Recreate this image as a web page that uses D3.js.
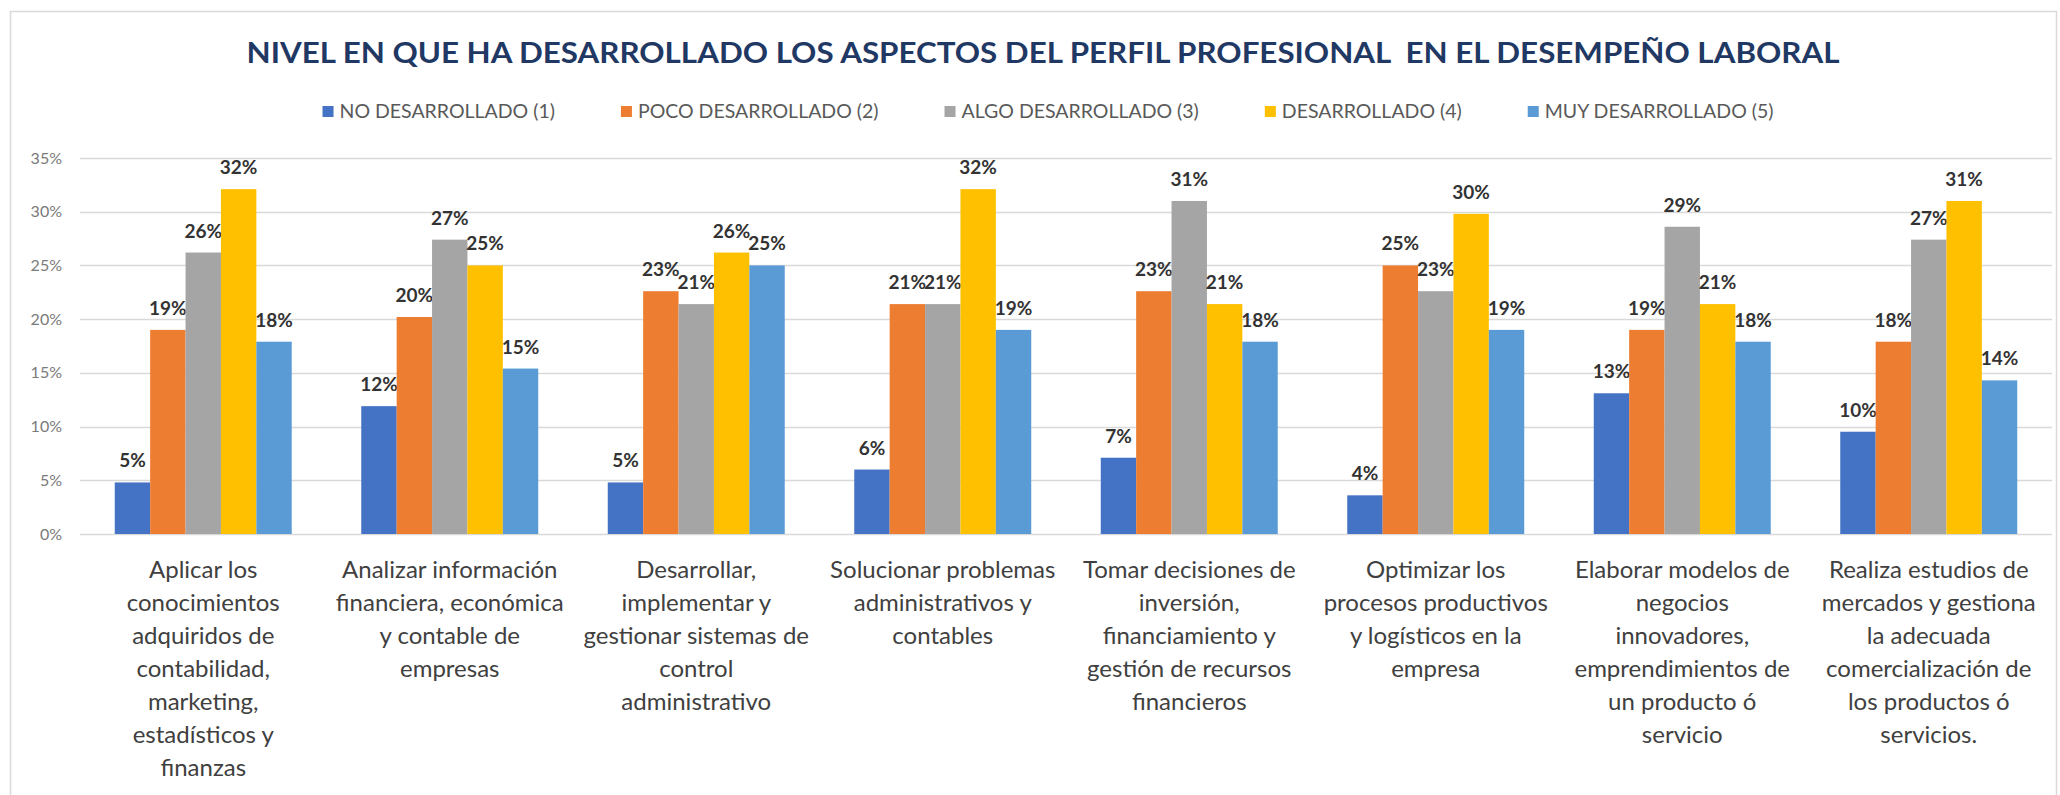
<!DOCTYPE html>
<html>
<head>
<meta charset="utf-8">
<script src="https://cdn.jsdelivr.net/npm/d3@7"></script>
<style>
    body { margin: 0; background: #ffffff; }
    text { font-family: Lato, "Open Sans", sans-serif; }
</style>
</head>
<body>
<svg id="chart" width="2060" height="795"></svg>
<script>
// Chart title
var title = "NIVEL EN QUE HA DESARROLLADO LOS ASPECTOS DEL PERFIL PROFESIONAL  EN EL DESEMPEÑO LABORAL";

// Series names (legend order)
var seriesNames = ["NO DESARROLLADO (1)", "POCO DESARROLLADO (2)", "ALGO DESARROLLADO (3)", "DESARROLLADO (4)", "MUY DESARROLLADO (5)"];

// Category labels, already broken into lines as in the original
var categories = [
    ["Aplicar los", "conocimientos", "adquiridos de", "contabilidad,", "marketing,", "estadísticos y", "finanzas"],
    ["Analizar información", "financiera, económica", "y contable de", "empresas"],
    ["Desarrollar,", "implementar y", "gestionar sistemas de", "control", "administrativo"],
    ["Solucionar problemas", "administrativos y", "contables"],
    ["Tomar decisiones de", "inversión,", "financiamiento y", "gestión de recursos", "financieros"],
    ["Optimizar los", "procesos productivos", "y logísticos en la", "empresa"],
    ["Elaborar modelos de", "negocios", "innovadores,", "emprendimientos de", "un producto ó", "servicio"],
    ["Realiza estudios de", "mercados y gestiona", "la adecuada", "comercialización de", "los productos ó", "servicios."]
];

// Values per series, one per category
var noDesarrollado    = [0.048, 0.119, 0.048, 0.060, 0.071, 0.036, 0.131, 0.0952];
var pocoDesarrollado  = [0.190, 0.202, 0.226, 0.214, 0.226, 0.250, 0.190, 0.179];
var algoDesarrollado  = [0.262, 0.274, 0.214, 0.214, 0.310, 0.226, 0.286, 0.274];
var desarrollado      = [0.321, 0.250, 0.262, 0.321, 0.214, 0.298, 0.214, 0.310];
var muyDesarrollado   = [0.179, 0.154, 0.250, 0.190, 0.179, 0.190, 0.179, 0.143];

// Y axis ticks
var yTicks = [0, 0.05, 0.10, 0.15, 0.20, 0.25, 0.30, 0.35];

var seriesValues = [noDesarrollado, pocoDesarrollado, algoDesarrollado, desarrollado, muyDesarrollado];
var colors = ["#4472C4", "#ED7D31", "#A5A5A5", "#FFC000", "#5B9BD5"];

var svg = d3.select("#chart");

// Plot area
var plot = { left: 80, right: 2052, top: 158, bottom: 534 };

// Chart area border
svg.append("rect")
    .attr("x", 10.5)
    .attr("y", 11.5)
    .attr("width", 2046)
    .attr("height", 820)
    .style("fill", "none")
    .style("stroke", "#d9d9d9")
    .style("stroke-width", 1.5);

// Scales
var x0 = d3.scaleBand()
    .domain(d3.range(categories.length))
    .range([plot.left, plot.right])
    .paddingInner(0.282)
    .paddingOuter(0.141);

var x1 = d3.scaleBand()
    .domain(d3.range(seriesNames.length))
    .range([0, x0.bandwidth()]);

var y = d3.scaleLinear()
    .domain([0, 0.35])
    .range([plot.bottom, plot.top]);

var pct = d3.format(".0%");

// Gridlines
svg.append("g")
    .selectAll("line")
    .data(yTicks)
    .enter()
    .append("line")
        .attr("x1", plot.left)
        .attr("x2", plot.right)
        .attr("y1", function (d) { return Math.round(y(d)) + 0.5; })
        .attr("y2", function (d) { return Math.round(y(d)) + 0.5; })
        .style("stroke", "#d9d9d9")
        .style("stroke-width", 1.5);

// Y axis labels
var yAxis = d3.axisLeft(y)
    .tickValues(yTicks)
    .tickFormat(pct)
    .tickSize(0)
    .tickPadding(0);

var yG = svg.append("g")
    .attr("transform", "translate(62,0)")
    .call(yAxis);
yG.select(".domain").remove();
yG.selectAll("text")
    .style("font-family", "Lato, sans-serif")
    .style("font-size", "16px")
    .style("fill", "#7a7a7a");

// Bars
var groups = svg.append("g")
    .selectAll("g")
    .data(categories)
    .enter()
    .append("g")
        .attr("transform", function (d, i) { return "translate(" + x0(i) + ",0)"; });

var cells = groups.selectAll("g.cell")
    .data(function (d, i) {
        return seriesValues.map(function (s, j) { return { s: j, v: s[i] }; });
    })
    .enter()
    .append("g")
        .attr("class", "cell");

cells.append("rect")
    .attr("x", function (d) { return x1(d.s); })
    .attr("y", function (d) { return y(d.v); })
    .attr("width", x1.bandwidth())
    .attr("height", function (d) { return y(0) - y(d.v); })
    .style("fill", function (d) { return colors[d.s]; });

// Data labels
cells.append("text")
    .attr("x", function (d) { return x1(d.s) + x1.bandwidth() / 2; })
    .attr("y", function (d) { return y(d.v) - 15; })
    .attr("text-anchor", "middle")
    .style("font-size", "19px")
    .style("font-weight", "bold")
    .style("fill", "#333333")
    .text(function (d) { return pct(d.v); });

// Category labels
var catText = svg.append("g")
    .selectAll("text")
    .data(categories)
    .enter()
    .append("text")
        .attr("text-anchor", "middle")
        .attr("x", function (d, i) { return x0(i) + x0.bandwidth() / 2; })
        .attr("y", 578)
        .style("font-size", "24px")
        .style("fill", "#404040");

catText.selectAll("tspan")
    .data(function (d) { return d; })
    .enter()
    .append("tspan")
        .attr("x", function () { return d3.select(this.parentNode).attr("x"); })
        .attr("dy", function (d, i) { return i === 0 ? 0 : 33; })
        .text(function (d) { return d; });

// Title
svg.append("text")
    .attr("x", 1043)
    .attr("y", 63)
    .attr("text-anchor", "middle")
    .attr("textLength", 1593)
    .attr("lengthAdjust", "spacingAndGlyphs")
    .style("white-space", "pre")
    .style("font-size", "29px")
    .style("font-weight", "bold")
    .style("fill", "#1f3864")
    .text(title);

// Legend, laid out from measured text widths and centred
var legendGap = 66;
var legend = svg.append("g");
var items = legend.selectAll("g")
    .data(seriesNames)
    .enter()
    .append("g");

items.append("rect")
    .attr("y", 106)
    .attr("width", 11)
    .attr("height", 11)
    .style("fill", function (d, i) { return colors[i]; });

items.append("text")
    .attr("x", 17)
    .attr("y", 118)
    .style("font-size", "19.5px")
    .style("fill", "#595959")
    .text(function (d) { return d; });

var offsets = [];
var run = 0;
items.each(function () {
    offsets.push(run);
    run += 17 + d3.select(this).select("text").node().getComputedTextLength() + legendGap;
});
var legendWidth = run - legendGap;
var legendStart = 1048 - legendWidth / 2;
items.attr("transform", function (d, i) { return "translate(" + (legendStart + offsets[i]) + ",0)"; });
</script>
</body>
</html>
